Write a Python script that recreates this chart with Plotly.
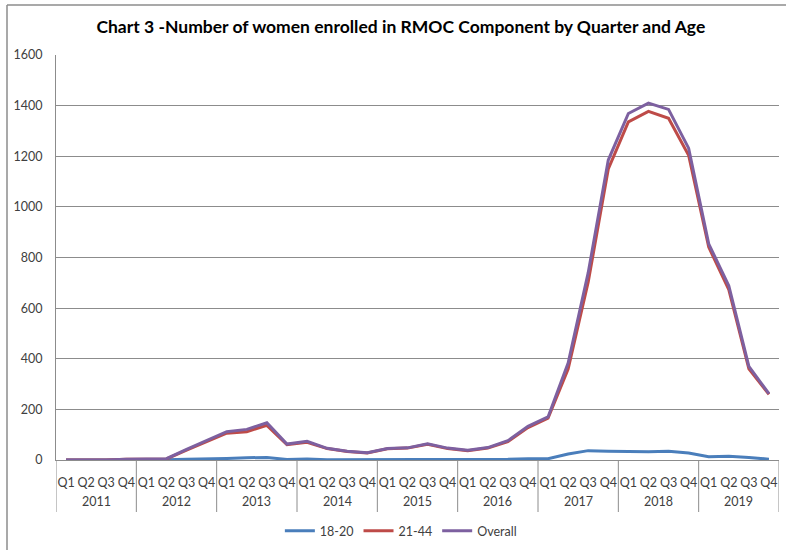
import plotly.graph_objects as go

years = ["2011", "2012", "2013", "2014", "2015", "2016", "2017", "2018", "2019"]
quarters = ["Q1", "Q2", "Q3", "Q4"]

age_18_20 = [0, 0, 0, 0,
             1, 1, 3, 4,
             6, 9, 10, 2,
             4, 1, 1, 1,
             1, 1, 2, 2,
             2, 2, 3, 5,
             5, 24, 37, 35,
             33, 33, 35, 28,
             13, 15, 10, 3]

age_21_44 = [0, 0, 0, 3,
             4, 4, 39, 73,
             106, 112, 137, 61,
             70, 45, 34, 28,
             44, 47, 62, 45,
             37, 47, 73, 128,
             165, 359, 703, 1150,
             1336, 1377, 1350, 1204,
             841, 673, 360, 259]

overall = [0, 0, 0, 3,
           5, 5, 42, 77,
           112, 121, 147, 63,
           74, 46, 35, 29,
           45, 48, 64, 47,
           39, 49, 76, 133,
           170, 383, 740, 1185,
           1369, 1410, 1385, 1232,
           854, 688, 370, 262]

series_names = ["18-20", "21-44", "Overall"]
series_colors = ["#4A7EBB", "#BE4B48", "#7D60A0"]

# category keys (one per quarter), shown as quarter labels; years go on a second row
x_keys = [f"{y} {q}" for y in years for q in quarters]
x_quarter_text = [q for y in years for q in quarters]
nq = len(quarters)

fig = go.Figure()
for name, vals, col in zip(series_names, [age_18_20, age_21_44, overall], series_colors):
    fig.add_trace(go.Scatter(
        x=x_keys, y=vals, name=name, mode="lines",
        line=dict(color=col, width=3),
    ))

# plot-area geometry in pixels (for paper-referenced extras)
PL, PR, PT, PB = 56, 779, 55, 460
PW, PH = PR - PL, PB - PT

annotations = []
shapes = []
for i, yr in enumerate(years):
    annotations.append(dict(
        x=i * nq + (nq - 1) / 2, xref="x", y=(PB - 502) / PH, yref="paper",
        text=yr, showarrow=False, xanchor="center", yanchor="middle",
        font=dict(size=12.5, color="#404040"),
    ))
for k in range(len(years) + 1):
    shapes.append(dict(
        type="line", xref="x", yref="paper",
        x0=k * nq - 0.5, x1=k * nq - 0.5, y0=0, y1=(PB - 512) / PH,
        line=dict(color="#8c8c8c", width=1),
    ))
# outer chart frame (left and top edges visible)
shapes.append(dict(type="line", xref="paper", yref="paper",
                   x0=(7 - PL) / PW, x1=(7 - PL) / PW, y0=(PB - 5) / PH, y1=(PB - 552) / PH,
                   line=dict(color="#8c8c8c", width=1.5)))
shapes.append(dict(type="line", xref="paper", yref="paper",
                   x0=(7 - PL) / PW, x1=(790 - PL) / PW, y0=(PB - 5) / PH, y1=(PB - 5) / PH,
                   line=dict(color="#8c8c8c", width=1.5)))

fig.update_layout(
    width=786, height=550,
    margin=dict(l=PL, r=786 - PR, t=PT, b=550 - PB),
    paper_bgcolor="white", plot_bgcolor="white",
    font=dict(family="Lato, Open Sans, sans-serif", size=12, color="#404040"),
    title=dict(
        text="<b>Chart 3 -Number of women enrolled in RMOC Component by Quarter and Age</b>",
        x=0.51, xanchor="center", y=0.951, yanchor="middle",
        font=dict(family="Lato, Open Sans, sans-serif", size=17.5, color="#000000"),
    ),
    legend=dict(
        orientation="h", x=0.51, xanchor="center", xref="container",
        y=1 - 531 / 550, yanchor="middle", yref="container",
        font=dict(size=12.5, color="#404040"), itemwidth=30,
    ),
    annotations=annotations,
    shapes=shapes,
)

fig.update_xaxes(
    type="category",
    range=[-0.5, len(x_keys) - 0.5], autorange=False,
    tickvals=x_keys, ticktext=x_quarter_text,
    showline=True, linecolor="#8c8c8c", linewidth=1,
    showgrid=False,
    tickfont=dict(size=12.5, color="#404040"),
    tickangle=0,
    ticks="", automargin=False, ticklabelstandoff=11,
)
fig.update_yaxes(
    range=[0, 1600], dtick=200,
    showgrid=True, gridcolor="#8c8c8c", gridwidth=1,
    showline=True, linecolor="#8c8c8c", linewidth=1,
    zeroline=False,
    tickfont=dict(size=12.5, color="#404040"),
    ticks="", ticklabelstandoff=10, automargin=False,
)

fig.write_html("out.html", config={"displayModeBar": False},
               post_script="document.body.style.margin='0px';document.body.style.overflow='hidden';")
